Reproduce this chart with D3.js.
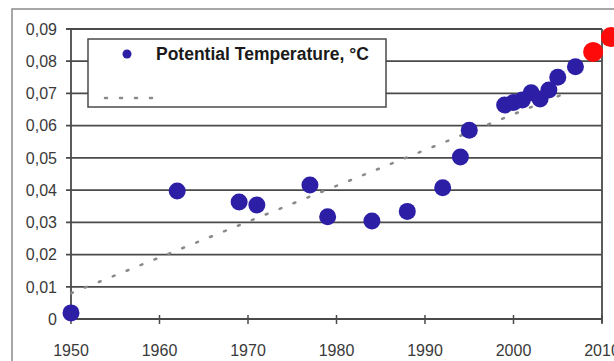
<!DOCTYPE html>
<html><head><meta charset="utf-8">
<script src="https://cdn.jsdelivr.net/npm/d3@7/dist/d3.min.js"></script>
<style>html,body{margin:0;padding:0;background:#fff;overflow:hidden}</style>
</head><body>
<script>
const blueYears  = [1950,1962,1969,1971,1977,1979,1984,1988,1992,1994,1995,1999,2000,2001,2002,2003,2004,2005,2007];
const blueValues = [0.0019,0.0397,0.0363,0.0354,0.0416,0.0317,0.0304,0.0334,0.0407,0.0503,0.0586,0.0664,0.0672,0.0680,0.0702,0.0683,0.0711,0.0750,0.0783];
const redYears   = [2009,2011];
const redValues  = [0.0829,0.0875];
const trendYears  = [1950,2006];
const trendValues = [0.0080,0.0702];
const xTicks = [1950,1960,1970,1980,1990,2000,2010];
const yTicks = [0,0.01,0.02,0.03,0.04,0.05,0.06,0.07,0.08,0.09];
const yTickLabels = ["0","0,01","0,02","0,03","0,04","0,05","0,06","0,07","0,08","0,09"];
const legendLabel = "Potential Temperature, °C";

const W=614,H=361;
const svg=d3.select("body").append("svg").attr("width",W).attr("height",H);
const x=d3.scaleLinear().domain([1950,2010]).range([71,602]);
const y=d3.scaleLinear().domain([0,0.09]).range([319,29]);
const font="'Liberation Sans', Arial, sans-serif";

// outer frame
svg.append("rect").attr("x",12).attr("y",9).attr("width",W).attr("height",H)
  .attr("fill","none").attr("stroke","#8a8a8a").attr("stroke-width",1.5);

// gridlines
svg.append("g").selectAll("line").data(yTicks).join("line")
  .attr("x1",x(1950)-5).attr("x2",x(2010)).attr("y1",d=>y(d)).attr("y2",d=>y(d))
  .attr("stroke","#4a4a4a").attr("stroke-width",1.8);
// plot sides
svg.append("line").attr("x1",x(1950)).attr("x2",x(1950)).attr("y1",y(0.09)).attr("y2",y(0))
  .attr("stroke","#4a4a4a").attr("stroke-width",1.8);
svg.append("line").attr("x1",x(2010)).attr("x2",x(2010)).attr("y1",y(0.09)).attr("y2",y(0)+4)
  .attr("stroke","#4a4a4a").attr("stroke-width",1.8);
// x ticks
svg.append("g").selectAll("line").data(xTicks).join("line")
  .attr("x1",d=>x(d)).attr("x2",d=>x(d)).attr("y1",y(0)-4).attr("y2",y(0)+5)
  .attr("stroke","#4a4a4a").attr("stroke-width",1.5);

// y labels
svg.append("g").selectAll("text").data(yTicks).join("text")
  .attr("x",57).attr("y",d=>y(d)).attr("dy","0.36em").attr("text-anchor","end")
  .attr("font-family",font).attr("font-size",16).attr("fill","#3a3a3a")
  .text((d,i)=>yTickLabels[i]);
// x labels
svg.append("g").selectAll("text").data(xTicks).join("text")
  .attr("x",d=>x(d)).attr("y",356).attr("text-anchor","middle")
  .attr("font-family",font).attr("font-size",16).attr("fill","#3a3a3a")
  .text(d=>d);

// trendline
const line=d3.line().x(d=>x(d[0])).y(d=>y(d[1]));
svg.append("path").datum(trendYears.map((t,i)=>[t,trendValues[i]]))
  .attr("d",line).attr("fill","none").attr("stroke","#8a8a8a").attr("stroke-width",2.5)
  .attr("stroke-dasharray","2,13").attr("stroke-linecap","round");

// points
svg.append("g").selectAll("circle").data(blueYears.map((t,i)=>[t,blueValues[i]])).join("circle")
  .attr("cx",d=>x(d[0])).attr("cy",d=>y(d[1])).attr("r",8.5).attr("fill","#2c1fa6");
svg.append("g").selectAll("circle").data(redYears.map((t,i)=>[t,redValues[i]])).join("circle")
  .attr("cx",d=>x(d[0])).attr("cy",d=>y(d[1])).attr("r",10).attr("fill","#ff0a0a");

// legend
const lg=svg.append("g");
lg.append("rect").attr("x",88).attr("y",39).attr("width",298).attr("height",68)
  .attr("fill","#fff").attr("stroke","#4a4a4a").attr("stroke-width",1.5);
lg.append("circle").attr("cx",127).attr("cy",54).attr("r",4.5).attr("fill","#2c1fa6");
lg.append("text").attr("x",156).attr("y",60).attr("font-family",font).attr("font-weight","bold")
  .attr("font-size",17.5).attr("fill","#1a1a1a").text(legendLabel);
lg.append("line").attr("x1",105).attr("x2",155).attr("y1",98).attr("y2",98)
  .attr("stroke","#8a8a8a").attr("stroke-width",2.5).attr("stroke-dasharray","2,13").attr("stroke-linecap","round");
</script>
</body></html>
